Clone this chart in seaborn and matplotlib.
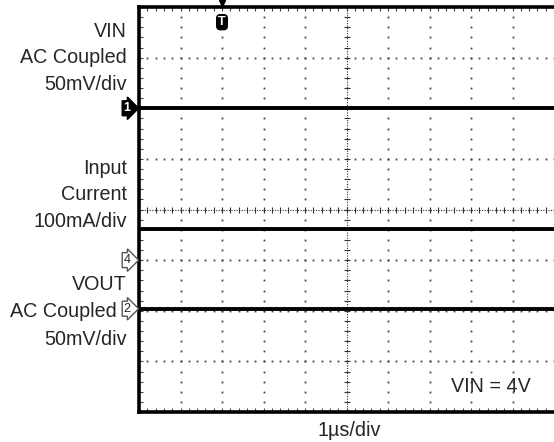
import numpy as np
import pandas as pd
import matplotlib
matplotlib.use("Agg")
import matplotlib.pyplot as plt
import seaborn as sns

# ---- data (in divisions) ----
channels = ["VIN", "Input Current", "VOUT"]
levels = [6.0, 3.62, 2.04]
time_div = [0.0, 10.0]
marker_labels = ["1", "4", "2"]
marker_levels = [6.0, 3.0, 2.04]
trigger_time = 2.0

left_labels = ["VIN", "AC Coupled", "50mV/div",
               "Input", "Current", "100mA/div",
               "VOUT", "AC Coupled", "50mV/div"]
left_baselines_px = [37, 63, 90, 174, 200, 227, 290, 317, 345]
left_right_px = [127, 127, 127, 127, 127, 127, 127, 117, 127]
x_label = "1\u00b5s/div"
note = "VIN = 4V"

W, H = 554, 442
sns.set_theme(style="white")
plt.rcParams['font.family'] = ['Liberation Sans', 'DejaVu Sans']

fig = plt.figure(figsize=(W / 100, H / 100), dpi=100)
fig.patch.set_facecolor("white")
ax = fig.add_axes([139 / W, 30 / H, 415 / W, 405 / H])
ax.set_facecolor("white")

rows = []
for ch, lv in zip(channels, levels):
    for t in time_div:
        rows.append({"time": t, "level": lv, "channel": ch})
df = pd.DataFrame(rows)

ax.set_xlim(0, 10)
ax.set_ylim(0, 8)

# graticule dots
minor = np.arange(0, 8.001, 0.2)
minor_x = np.arange(0, 10.001, 0.2)
for i in range(1, 10):
    if i == 5:
        continue
    ax.plot(np.full(len(minor), i), minor, ls="none", marker="s", ms=1.3,
            mew=0, color="#444444", zorder=1)
for j in range(1, 8):
    if j == 4:
        continue
    ax.plot(minor_x, np.full(len(minor_x), j), ls="none", marker="s", ms=1.3,
            mew=0, color="#444444", zorder=1)
# center lines
ax.axvline(5, color="#333333", lw=0.8, ls=(0, (1, 1.3)), zorder=1)
ax.axhline(4, color="#333333", lw=0.8, ls=(0, (1, 1.3)), zorder=1)
ax.plot(np.full(len(minor), 5), minor, ls="none", marker="_", ms=5, mew=0.8,
        color="#333333", zorder=1)
ax.plot(minor_x, np.full(len(minor_x), 4), ls="none", marker="|", ms=5, mew=0.8,
        color="#333333", zorder=1)

sns.lineplot(data=df, x="time", y="level", units="channel", estimator=None,
             color="black", lw=2.8, ax=ax, legend=False, zorder=3)

ax.set_xlabel("")
ax.set_ylabel("")
ax.set_xticks(minor_x)
ax.set_yticks(minor)
ax.tick_params(direction="in", length=3, width=0.8, color="#444444",
               top=True, bottom=True, left=True, right=False,
               labelbottom=False, labelleft=False)
for s in ["left", "top", "bottom"]:
    ax.spines[s].set_linewidth(2.6)
    ax.spines[s].set_color("black")
ax.spines["right"].set_visible(False)

# channel markers
for lab, lv in zip(marker_labels, marker_levels):
    if lab == "1":
        ax.text(-0.2, lv, lab, ha="right", va="center", fontsize=9,
                fontweight="bold", color="white",
                bbox=dict(boxstyle="rarrow,pad=0.12", fc="black", ec="black"),
                clip_on=False, zorder=5)
    else:
        ax.text(-0.2, lv, lab, ha="right", va="center", fontsize=9,
                color="#222222",
                bbox=dict(boxstyle="rarrow,pad=0.12", fc="white", ec="#555555", lw=1.0),
                clip_on=False, zorder=5)

# trigger marker
ax.plot(trigger_time, 8.07, marker="v", ms=5, color="black", clip_on=False, zorder=6)
ax.text(trigger_time, 7.7, "T", ha="center", va="center", fontsize=9,
        fontweight="bold", color="white",
        bbox=dict(boxstyle="round,pad=0.12,rounding_size=0.3", fc="black", ec="black"),
        clip_on=False, zorder=6)

# text
for lab, yb, xr in zip(left_labels, left_baselines_px, left_right_px):
    fig.text(xr / W, 1 - yb / H, lab, ha="right", va="baseline", fontsize=14.2)
fig.text(349 / W, 1 - 436 / H, x_label, ha="center", va="baseline", fontsize=14.2)
fig.text(491 / W, 1 - 392 / H, note, ha="center", va="baseline", fontsize=14.2)

fig.savefig("out.png", dpi=100, facecolor="white")
